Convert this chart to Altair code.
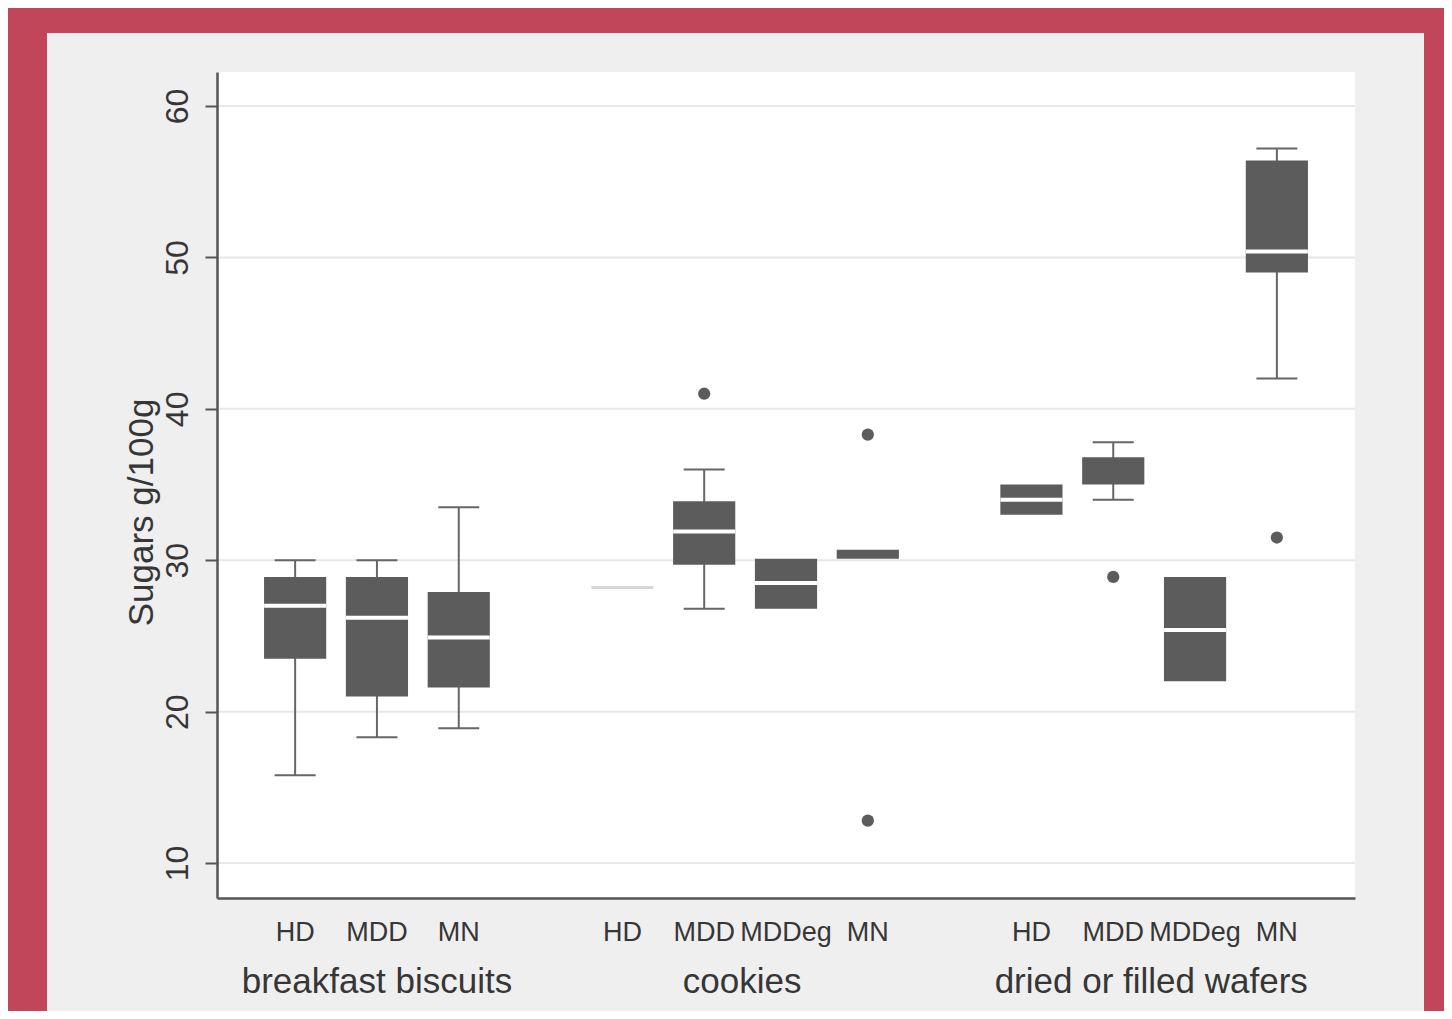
import altair as alt
import pandas as pd

# ---------------- data ----------------
groups = ["breakfast biscuits"] * 3 + ["cookies"] * 4 + ["dried or filled wafers"] * 4
subgroups = ["HD", "MDD", "MN", "HD", "MDD", "MDDeg", "MN", "HD", "MDD", "MDDeg", "MN"]
q1 = [23.5, 21.0, 21.6, 28.2, 29.7, 26.8, 30.1, 33.0, 35.0, 22.0, 49.0]
med = [27.0, 26.2, 24.9, 28.2, 31.9, 28.5, 30.1, 34.0, 35.0, 25.4, 50.4]
q3 = [28.9, 28.9, 27.9, 28.2, 33.9, 30.1, 30.7, 35.0, 36.8, 28.9, 56.4]
whisk_lo = [15.8, 18.3, 18.9, None, 26.8, None, None, None, 34.0, None, 42.0]
whisk_hi = [30.0, 30.0, 33.5, None, 36.0, None, None, None, 37.8, None, 57.2]

out_group = ["cookies", "cookies", "cookies", "dried or filled wafers", "dried or filled wafers"]
out_sub = ["MDD", "MN", "MN", "MDD", "MN"]
out_val = [41.0, 38.3, 12.8, 28.9, 31.5]

group_names = ["breakfast biscuits", "cookies", "dried or filled wafers"]
y_ticks = [10, 20, 30, 40, 50, 60]

# ---------------- styling ----------------
W, H = 1138, 826
RED = "#c2465a"
PANEL = "#efefef"
BOX = "#5c5c5c"
WHISK = "#666666"
AXIS = "#555555"
TEXT = "#363636"
FONT = "Liberation Sans"

keys = [f"{g}|{s}" for g, s in zip(groups, subgroups)]
domain = []
for i, g in enumerate(group_names):
    if i > 0:
        domain.append(f"gap{i}")
    domain += [k for k, gg in zip(keys, groups) if gg == g]

box_df = pd.DataFrame({"key": keys, "group": groups, "sub": subgroups,
                       "q1": q1, "med": med, "q3": q3,
                       "lo": whisk_lo, "hi": whisk_hi})
out_df = pd.DataFrame({"key": [f"{g}|{s}" for g, s in zip(out_group, out_sub)],
                       "val": out_val})
grid_df = pd.DataFrame({"v": y_ticks})

lab_rows = []
for g in group_names:
    subs = [s for s, gg in zip(subgroups, groups) if gg == g]
    n = len(subs)
    lab_rows.append({"group": g, "anchor": f"{g}|{subs[(n - 1) // 2]}", "even": n % 2 == 0})
lab_df = pd.DataFrame(lab_rows)
dummy = pd.DataFrame({"a": [0]})

x_axis = alt.Axis(
    orient="bottom", title=None, labelAngle=0, grid=False, ticks=False, tickSize=0,
    labelPadding=21, labelFontSize=27, labelFont=FONT, labelColor=TEXT,
    domainColor=AXIS, domainWidth=2.5, zindex=1,
    labelExpr="indexof(datum.value, '|') >= 0 ? split(datum.value, '|')[1] : ''",
)
x_scale = alt.Scale(domain=domain, paddingInner=0.24, paddingOuter=0.575)
X = alt.X("key:N", scale=x_scale, axis=x_axis)

y_scale = alt.Scale(domain=[7.69, 62.25], nice=False, zero=False)
y_axis = alt.Axis(
    values=y_ticks, grid=False, title="Sugars g/100g",
    labelAngle=270, labelAlign="center", labelBaseline="bottom", labelPadding=11,
    labelFontSize=32, labelFont=FONT, labelColor=TEXT,
    tickSize=12, tickWidth=2, tickColor=AXIS, domainColor=AXIS, domainWidth=2.5,
    titleFontSize=35, titleFont=FONT, titleFontWeight="normal", titleColor=TEXT,
    titleAngle=270, titleAlign="center", titleBaseline="middle", titleX=-76, titleY=440,
    zindex=1,
)

panel = alt.Chart(dummy).mark_rect(color=PANEL).encode(
    x=alt.value(-170), x2=alt.value(1207), y=alt.value(-39), y2=alt.value(H + 130))
plotbg = alt.Chart(dummy).mark_rect(color="white").encode(
    x=alt.value(0), x2=alt.value(W), y=alt.value(0), y2=alt.value(H))

grid = alt.Chart(grid_df).mark_rule(color="#e8e8e8", strokeWidth=2).encode(
    y=alt.Y("v:Q", scale=y_scale, axis=y_axis))

base = alt.Chart(box_df)
whiskers = base.transform_filter("isValid(datum.lo)").mark_rule(
    color=WHISK, strokeWidth=2, opacity=1).encode(
    x=X, y=alt.Y("lo:Q", scale=y_scale, axis=y_axis), y2="hi:Q")
cap_lo = base.transform_filter("isValid(datum.lo)").mark_tick(
    color=WHISK, size=41, thickness=2, opacity=1).encode(
    x=X, y=alt.Y("lo:Q", scale=y_scale, axis=y_axis))
cap_hi = base.transform_filter("isValid(datum.hi)").mark_tick(
    color=WHISK, size=41, thickness=2, opacity=1).encode(
    x=X, y=alt.Y("hi:Q", scale=y_scale, axis=y_axis))
boxes = base.mark_bar(color=BOX, opacity=1).encode(
    x=X, y=alt.Y("q1:Q", scale=y_scale, axis=y_axis), y2="q3:Q")
medians = base.transform_filter(
    "datum.med > datum.q1 && datum.med < datum.q3"
).mark_tick(size=62, thickness=4, color="white", opacity=1).encode(
    x=X, y=alt.Y("med:Q", scale=y_scale, axis=y_axis))
flat = base.transform_filter("datum.q1 == datum.q3").mark_tick(
    size=62, thickness=3, color="#d6d6d6", opacity=1).encode(
    x=X, y=alt.Y("med:Q", scale=y_scale, axis=y_axis))
outliers = alt.Chart(out_df).mark_circle(color=BOX, size=150, opacity=1).encode(
    x=X, y=alt.Y("val:Q", scale=y_scale, axis=y_axis))

lab_odd = alt.Chart(lab_df).transform_filter("!datum.even").mark_text(
    fontSize=35, font=FONT, color=TEXT, baseline="alphabetic", align="center").encode(
    x=alt.X("anchor:N", scale=x_scale, axis=x_axis), y=alt.value(H + 95), text="group:N")
lab_even = alt.Chart(lab_df).transform_filter("datum.even").mark_text(
    fontSize=35, font=FONT, color=TEXT, baseline="alphabetic", align="center", dx=38).encode(
    x=alt.X("anchor:N", scale=x_scale, axis=x_axis), y=alt.value(H + 95), text="group:N")

chart = alt.layer(
    panel, plotbg, grid, whiskers, cap_lo, cap_hi, boxes, medians, flat, outliers, lab_odd, lab_even
).properties(
    width=W, height=H,
    autosize=alt.AutoSizeParams(type="none"),
    padding={"left": 209, "top": 64, "right": 89, "bottom": 113},
    background=RED,
).configure_view(stroke=None, fill="white")

chart.save("out.html", embed_options={"renderer": "svg", "actions": False})
